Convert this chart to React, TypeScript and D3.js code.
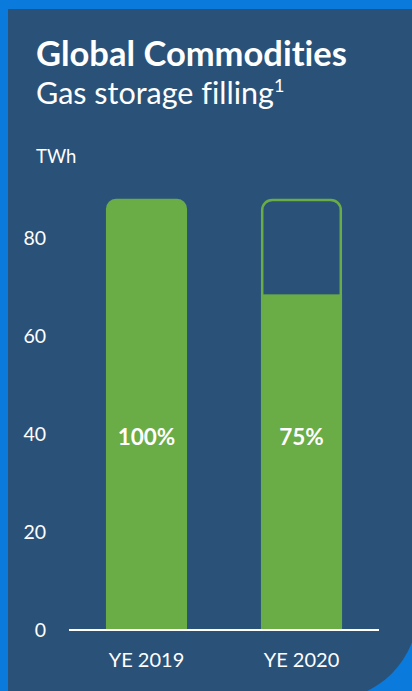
import React from "react";
import * as d3 from "d3";

const categories = ["YE 2019", "YE 2020"];
const capacity = [88, 88];
const filled = [88, 68.5];
const pctLabels = ["100%", "75%"];
const yTicks = [0, 20, 40, 60, 80];

const W = 412;
const H = 691;
const FONT = "Lato, 'Open Sans', sans-serif";
const GREEN = "#6aac46";
const PANEL = "#2a5279";
const BRIGHT = "#0a7bdc";

export default function App() {
  const x = d3
    .scaleBand<string>()
    .domain(categories)
    .range([69, 379])
    .paddingInner(0.477)
    .paddingOuter(0.2385);
  const y = d3.scaleLinear().domain([0, 80]).range([630, 238]);
  const bw = x.bandwidth();
  const r = 10;

  const topRounded = (x0: number, y0: number, w: number, y1: number) => {
    const p = d3.path();
    p.moveTo(x0, y1);
    p.lineTo(x0, y0 + r);
    p.arcTo(x0, y0, x0 + r, y0, r);
    p.lineTo(x0 + w - r, y0);
    p.arcTo(x0 + w, y0, x0 + w, y0 + r, r);
    p.lineTo(x0 + w, y1);
    return p.toString();
  };

  const R = 90;
  const px0 = 8, py0 = 9, px1 = 418, py1 = 700;
  const panel = `M${px0},${py0}H${px1}V${py1 - R}A${R},${R} 0 0 1 ${px1 - R},${py1}H${px0}Z`;

  return (
    <svg
      width={W}
      height={H}
      style={{ position: "absolute", left: 0, top: 0, display: "block", fontVariantLigatures: "none" }}
      fontFamily={FONT}
    >
      <rect x={0} y={0} width={W} height={H} fill={BRIGHT} />
      <text x={197} y={-14} fill="#fff" fontSize={40} fontWeight={700} textAnchor="middle">g</text>
      <path d={panel} fill={PANEL} />
      <text x={36} y={66} fill="#fff" fontSize={34.5} fontWeight={700}>Global Commodities</text>
      <text x={36} y={104} fill="#fff" fontSize={30.5}>
        Gas storage filling<tspan fontSize={18} dy={-12}>1</tspan>
      </text>
      <text x={36} y={163} fill="#fff" fontSize={18.5}>TWh</text>

      {yTicks.map((t) => (
        <text key={t} x={46} y={y(t)} dy="0.35em" fill="#fff" fontSize={19.5} textAnchor="end">
          {t}
        </text>
      ))}

      {categories.map((c, i) => {
        const x0 = x(c)!;
        return (
          <g key={c}>
            {i === 0 ? (
              <path d={topRounded(x0, y(filled[i]), bw, y(0)) + "Z"} fill={GREEN} />
            ) : (
              <>
                <rect x={x0} y={y(filled[i])} width={bw} height={y(0) - y(filled[i])} fill={GREEN} />
                <path
                  d={topRounded(x0 + 1.25, y(capacity[i]) + 1.25, bw - 2.5, y(0))}
                  fill="none"
                  stroke={GREEN}
                  strokeWidth={2.5}
                />
              </>
            )}
            <text
              x={x0 + bw / 2}
              y={437}
              dy="0.35em"
              fill="#fff"
              fontSize={22.5}
              fontWeight={700}
              textAnchor="middle"
            >
              {pctLabels[i]}
            </text>
            <text x={x0 + bw / 2} y={660} dy="0.35em" fill="#fff" fontSize={20} textAnchor="middle">
              {c}
            </text>
          </g>
        );
      })}
      <line x1={69} x2={379} y1={y(0)} y2={y(0)} stroke="#fff" strokeWidth={2} />
    </svg>
  );
}
